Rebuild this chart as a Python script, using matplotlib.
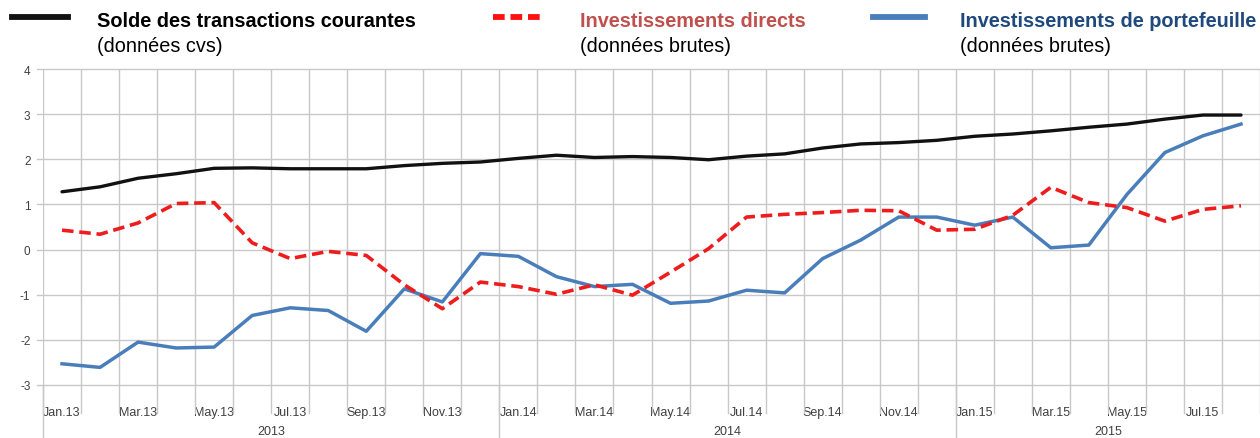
import matplotlib
matplotlib.use("Agg")
import matplotlib.pyplot as plt
from matplotlib.lines import Line2D

plt.rcParams['font.family'] = ['Liberation Sans', 'DejaVu Sans']

months = ["Jan.13", "Feb.13", "Mar.13", "Apr.13", "May.13", "Jun.13", "Jul.13", "Aug.13",
          "Sep.13", "Oct.13", "Nov.13", "Dec.13",
          "Jan.14", "Feb.14", "Mar.14", "Apr.14", "May.14", "Jun.14", "Jul.14", "Aug.14",
          "Sep.14", "Oct.14", "Nov.14", "Dec.14",
          "Jan.15", "Feb.15", "Mar.15", "Apr.15", "May.15", "Jun.15", "Jul.15", "Aug.15"]
years = ["2013", "2014", "2015"]

solde = [1.28, 1.39, 1.58, 1.68, 1.80, 1.81, 1.79, 1.79, 1.79, 1.86, 1.91, 1.94,
         2.02, 2.09, 2.04, 2.06, 2.04, 1.99, 2.07, 2.12, 2.25, 2.34, 2.37, 2.42,
         2.51, 2.56, 2.63, 2.71, 2.78, 2.89, 2.98, 2.98]
directs = [0.43, 0.34, 0.59, 1.02, 1.04, 0.15, -0.20, -0.04, -0.13, -0.78, -1.31, -0.72,
           -0.82, -0.99, -0.78, -1.01, -0.50, 0.02, 0.72, 0.78, 0.82, 0.87, 0.86, 0.43,
           0.45, 0.76, 1.38, 1.04, 0.93, 0.63, 0.89, 0.97]
portef = [-2.53, -2.61, -2.05, -2.18, -2.16, -1.46, -1.29, -1.35, -1.81, -0.87, -1.16, -0.09,
          -0.15, -0.60, -0.82, -0.77, -1.19, -1.14, -0.90, -0.96, -0.20, 0.21, 0.72, 0.72,
          0.54, 0.72, 0.04, 0.10, 1.22, 2.15, 2.52, 2.78]

fig = plt.figure(figsize=(12.6, 4.39), dpi=100)
ax = fig.add_axes([43/1260, 1-386/439, 1-43/1260, 316/439])

x = list(range(len(months)))
grid_c = "#c8c8c8"
ax.plot(x, portef, color="#4a7ebb", lw=2.5, solid_joinstyle="round", zorder=3)
ax.plot(x, directs, color="#ee1c1c", lw=2.6, ls=(0, (3.2, 1.6)), zorder=4)
ax.plot(x, solde, color="#111111", lw=2.4, solid_capstyle="round", zorder=5)

ax.set_xlim(-0.5, len(months) - 0.5)
ax.set_ylim(-3, 4)
ax.set_yticks(range(-3, 5))
ax.set_yticklabels([str(v) for v in range(-3, 5)])
ax.tick_params(axis='y', length=0, pad=9, labelsize=8.5, labelcolor="#404040")
for v in range(-3, 5):
    ax.plot([-0.66, len(months) - 0.5], [v, v], color=grid_c, lw=1.0, zorder=1, clip_on=False)
for i in range(len(months) + 1):
    ax.axvline(i - 0.5, color=grid_c, lw=1.0, zorder=1)
for s in ax.spines.values():
    s.set_visible(False)

ax.set_xticks(x[::2])
ax.set_xticklabels(months[::2])
ax.tick_params(axis='x', length=0, pad=15, labelsize=9, labelcolor="#404040")

trans = ax.get_xaxis_transform()
for i in range(len(months) + 1):
    ax.plot([i - 0.5, i - 0.5], [0, -0.088], transform=trans, color=grid_c, lw=1.0, clip_on=False)
year_bounds = [(-0.5, 11.5), (11.5, 23.5), (23.5, len(months) - 0.5)]
for (a, b), yl in zip(year_bounds, years):
    ax.plot([a, a], [0, -0.2], transform=trans, color=grid_c, lw=1.0, clip_on=False)
    ax.text((a + b) / 2, -0.146, yl, transform=trans, ha='center', va='center',
            fontsize=9, color="#404040")

# legend
entries = [
    (12, 68, "#111111", '-', "Solde des transactions courantes", "#000000", "(données cvs)", 97),
    (493, 545, "#ff1010", (0, (2.0, 1.0)), "Investissements directs", "#c0504d", "(données brutes)", 580),
    (873, 925, "#4a7ebb", '-', "Investissements de portefeuille", "#1f497d", "(données brutes)", 960),
]
for x0, x1, lc, ls, title, tc, sub, tx in entries:
    fig.add_artist(Line2D([x0/1260, x1/1260], [1-18/439, 1-18/439], color=lc, lw=4.2, ls=ls,
                          transform=fig.transFigure))
    fig.text(tx/1260, 1-21.5/439, title, fontsize=14.3, fontweight='bold', color=tc, va='center', ha='left')
    fig.text(tx/1260, 1-46/439, sub, fontsize=14.3, color="#000000", va='center', ha='left')

fig.savefig("out.png", dpi=100)
